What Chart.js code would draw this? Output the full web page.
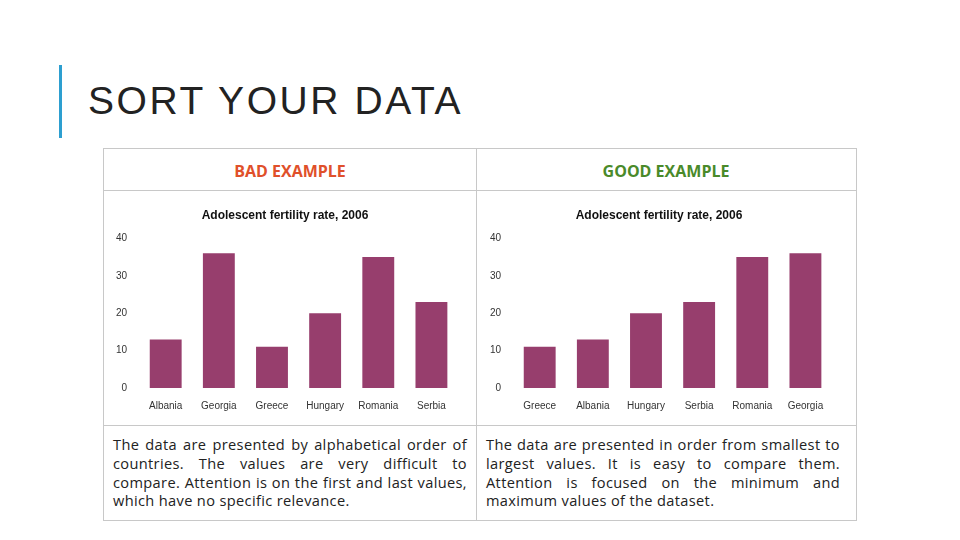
<!DOCTYPE html>
<html><head><meta charset="utf-8">
<script src="https://cdn.jsdelivr.net/npm/chart.js@4"></script>
<style>
body{margin:0;width:960px;height:540px;background:#fff;position:relative;overflow:hidden;font-family:"Liberation Sans",Arial,sans-serif}
#bar{position:absolute;left:59px;top:65px;width:3px;height:73px;background:#2d9fd0}
#title{position:absolute;left:88px;top:79px;font-size:39px;letter-spacing:2.6px;color:#222;font-family:"Liberation Sans",sans-serif;font-weight:normal}
#box{position:absolute;left:103px;top:148px;width:752px;height:371px;border:1px solid #c8c8c8}
.vl{position:absolute;left:476px;top:148px;width:1px;height:373px;background:#c8c8c8}
.hl{position:absolute;left:103px;width:754px;height:1px;background:#c8c8c8}
.hdr{position:absolute;top:160px;font-weight:bold;font-size:16px;font-family:"Open Sans",sans-serif;text-align:center;width:372px}
.txt{position:absolute;top:435px;width:354px;font-size:14.6px;line-height:18.8px;text-align:justify;color:#222;font-family:"Open Sans",sans-serif;letter-spacing:0.35px}
.cv{position:absolute;top:196px;width:366px;height:220px}
</style></head><body>
<div id="bar"></div><div id="title">SORT YOUR DATA</div>
<div id="box"></div><div class="vl"></div>
<div class="hl" style="top:190px"></div><div class="hl" style="top:425px"></div>
<div class="hdr" style="left:104px;color:#e0502a">BAD EXAMPLE</div>
<div class="hdr" style="left:480px;color:#4a8a2a">GOOD EXAMPLE</div>
<div class="txt" style="left:113px">The data are presented by alphabetical order of countries. The values are very difficult to compare. Attention is on the first and last values, which have no specific relevance.</div>
<div class="txt" style="left:486px">The data are presented in order from smallest to largest values. It is easy to compare them. Attention is focused on the minimum and maximum values of the dataset.</div>
<div class="cv" style="left:108px"><canvas id="c1"></canvas></div>
<div class="cv" style="left:482px"><canvas id="c2"></canvas></div>
<script>
const chartTitle="Adolescent fertility rate, 2006";
const alphaCountries=["Albania","Georgia","Greece","Hungary","Romania","Serbia"];
const alphaValues=[13,36,11,20,35,23];
const sortedCountries=["Greece","Albania","Hungary","Serbia","Romania","Georgia"];
const sortedValues=[11,13,20,23,35,36];
const yTicks=[0,10,20,30,40];
function mk(id,labels,vals){
 new Chart(document.getElementById(id),{type:'bar',
  data:{labels:labels,datasets:[{data:vals,backgroundColor:'#973e6d',categoryPercentage:0.6,barPercentage:1}]},
  options:{responsive:true,maintainAspectRatio:false,animation:false,
   layout:{padding:{left:4,right:16,top:6,bottom:0}},
   plugins:{legend:{display:false},tooltip:{enabled:false},
    title:{display:true,text:chartTitle,color:'#111',font:{size:12,weight:'bold',family:'Arial'},padding:{top:6,bottom:16}}},
   scales:{x:{grid:{display:false},border:{display:false},ticks:{color:'#333',font:{size:10},padding:4}},
    y:{min:0,max:40,afterBuildTicks:a=>{a.ticks=yTicks.map(v=>({value:v}))},grid:{display:false},border:{display:false},
     ticks:{color:'#333',font:{size:10},padding:4}}}}});
}
mk('c1',alphaCountries,alphaValues);
mk('c2',sortedCountries,sortedValues);
</script></body></html>
